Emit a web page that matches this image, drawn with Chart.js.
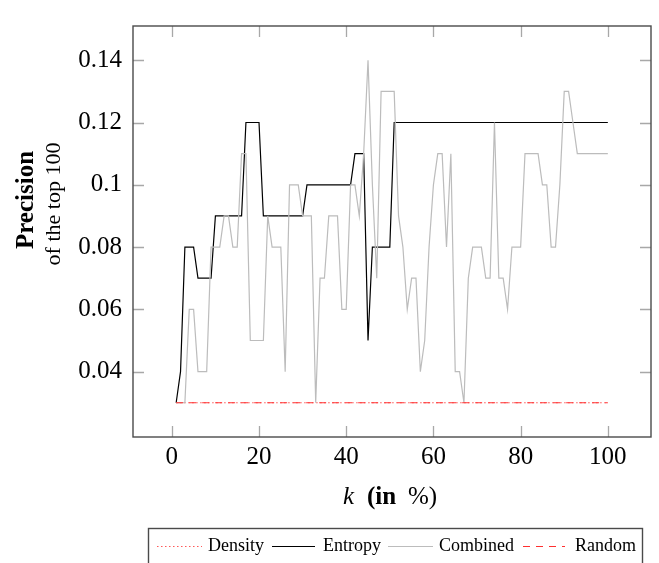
<!DOCTYPE html>
<html><head><meta charset="utf-8">
<script src="https://cdn.jsdelivr.net/npm/chart.js@4/dist/chart.umd.min.js"></script>
<style>html,body{margin:0;padding:0;background:#fff}</style>
</head><body>
<canvas id="c" width="659" height="563"></canvas>
<script>
const kValues = [1,2,3,4,5,6,7,8,9,10,11,12,13,14,15,16,17,18,19,20,21,22,23,24,25,26,27,28,29,30,31,32,33,34,35,36,37,38,39,40,41,42,43,44,45,46,47,48,49,50,51,52,53,54,55,56,57,58,59,60,61,62,63,64,65,66,67,68,69,70,71,72,73,74,75,76,77,78,79,80,81,82,83,84,85,86,87,88,89,90,91,92,93,94,95,96,97,98,99,100];
const density = [0.03,0.03,0.03,0.03,0.03,0.03,0.03,0.03,0.03,0.03,0.03,0.03,0.03,0.03,0.03,0.03,0.03,0.03,0.03,0.03,0.03,0.03,0.03,0.03,0.03,0.03,0.03,0.03,0.03,0.03,0.03,0.03,0.03,0.03,0.03,0.03,0.03,0.03,0.03,0.03,0.03,0.03,0.03,0.03,0.03,0.03,0.03,0.03,0.03,0.03,0.03,0.03,0.03,0.03,0.03,0.03,0.03,0.03,0.03,0.03,0.03,0.03,0.03,0.03,0.03,0.03,0.03,0.03,0.03,0.03,0.03,0.03,0.03,0.03,0.03,0.03,0.03,0.03,0.03,0.03,0.03,0.03,0.03,0.03,0.03,0.03,0.03,0.03,0.03,0.03,0.03,0.03,0.03,0.03,0.03,0.03,0.03,0.03,0.03,0.03];
const entropy = [0.03,0.04,0.08,0.08,0.08,0.07,0.07,0.07,0.07,0.09,
0.09,0.09,0.09,0.09,0.09,0.09,0.12,0.12,0.12,0.12,
0.09,0.09,0.09,0.09,0.09,0.09,0.09,0.09,0.09,0.09,
0.10,0.10,0.10,0.10,0.10,0.10,0.10,0.10,0.10,0.10,
0.10,0.11,0.11,0.11,0.05,0.08,0.08,0.08,0.08,0.08,
0.12,0.12,0.12,0.12,0.12,0.12,0.12,0.12,0.12,0.12,
0.12,0.12,0.12,0.12,0.12,0.12,0.12,0.12,0.12,0.12,
0.12,0.12,0.12,0.12,0.12,0.12,0.12,0.12,0.12,0.12,
0.12,0.12,0.12,0.12,0.12,0.12,0.12,0.12,0.12,0.12,
0.12,0.12,0.12,0.12,0.12,0.12,0.12,0.12,0.12,0.12];
const combined = [0.03,0.03,0.03,0.06,0.06,0.04,0.04,0.04,0.08,0.08,
0.08,0.09,0.09,0.08,0.08,0.11,0.11,0.05,0.05,0.05,
0.05,0.09,0.08,0.08,0.08,0.04,0.10,0.10,0.10,0.09,
0.09,0.09,0.03,0.07,0.07,0.09,0.09,0.09,0.06,0.06,
0.10,0.10,0.09,0.11,0.14,0.10,0.07,0.13,0.13,0.13,
0.13,0.09,0.08,0.06,0.07,0.07,0.04,0.05,0.08,0.10,
0.11,0.11,0.08,0.11,0.04,0.04,0.03,0.07,0.08,0.08,
0.08,0.07,0.07,0.12,0.07,0.07,0.06,0.08,0.08,0.08,
0.11,0.11,0.11,0.11,0.10,0.10,0.08,0.08,0.10,0.13,
0.13,0.12,0.11,0.11,0.11,0.11,0.11,0.11,0.11,0.11];
const random = [0.03,0.03,0.03,0.03,0.03,0.03,0.03,0.03,0.03,0.03,0.03,0.03,0.03,0.03,0.03,0.03,0.03,0.03,0.03,0.03,0.03,0.03,0.03,0.03,0.03,0.03,0.03,0.03,0.03,0.03,0.03,0.03,0.03,0.03,0.03,0.03,0.03,0.03,0.03,0.03,0.03,0.03,0.03,0.03,0.03,0.03,0.03,0.03,0.03,0.03,0.03,0.03,0.03,0.03,0.03,0.03,0.03,0.03,0.03,0.03,0.03,0.03,0.03,0.03,0.03,0.03,0.03,0.03,0.03,0.03,0.03,0.03,0.03,0.03,0.03,0.03,0.03,0.03,0.03,0.03,0.03,0.03,0.03,0.03,0.03,0.03,0.03,0.03,0.03,0.03,0.03,0.03,0.03,0.03,0.03,0.03,0.03,0.03,0.03,0.03];
const xTicks = [0,20,40,60,80,100];
const yTicks = [0.04,0.06,0.08,0.1,0.12,0.14];
const seriesNames = ['Density','Entropy','Combined','Random'];

const pts = arr => arr.map((v,i)=>({x:kValues[i], y:v}));
const SERIF = '"Liberation Serif","DejaVu Serif",serif';

const framePlugin = {
  id:'frame',
  afterDatasetsDraw(chart){
    const {ctx, chartArea:a, scales:{x,y}} = chart;
    ctx.save();
    ctx.strokeStyle = '#a8a8a8'; ctx.lineWidth = 1.3;
    const tl = 11;
    xTicks.forEach(v=>{
      const px = Math.round(x.getPixelForValue(v))+0.5;
      ctx.beginPath(); ctx.moveTo(px,a.bottom); ctx.lineTo(px,a.bottom-tl);
      ctx.moveTo(px,a.top); ctx.lineTo(px,a.top+tl); ctx.stroke();
    });
    yTicks.forEach(v=>{
      const py = Math.round(y.getPixelForValue(v))+0.5;
      ctx.beginPath(); ctx.moveTo(a.left,py); ctx.lineTo(a.left+tl,py);
      ctx.moveTo(a.right,py); ctx.lineTo(a.right-tl,py); ctx.stroke();
    });
    ctx.strokeStyle = '#4a4a4a'; ctx.lineWidth = 1.4;
    ctx.strokeRect(a.left, a.top, a.right-a.left, a.bottom-a.top);
    ctx.restore();
  },
  afterDraw(chart){
    const ctx = chart.ctx;
    ctx.save();
    ctx.fillStyle = '#000';
    // x title
    ctx.textBaseline = 'alphabetic'; ctx.textAlign = 'left';
    ctx.font = 'italic 25px '+SERIF; ctx.fillText('k', 343, 504);
    ctx.font = 'bold 25px '+SERIF; ctx.fillText('(in', 367, 504);
    ctx.font = '25px '+SERIF; ctx.fillText('%)', 408, 504);
    // y title
    ctx.textAlign = 'center';
    ctx.save(); ctx.translate(33, 200); ctx.rotate(-Math.PI/2);
    ctx.font = 'bold 25px '+SERIF; ctx.fillText('Precision', 0, 0); ctx.restore();
    ctx.save(); ctx.translate(60, 204); ctx.rotate(-Math.PI/2);
    ctx.font = '22px '+SERIF; ctx.fillText('of the top 100', 0, 0); ctx.restore();
    // legend
    ctx.strokeStyle = '#4a4a4a'; ctx.lineWidth = 1.4;
    ctx.strokeRect(148.5, 528.5, 494, 50);
    const ly = 546;
    const items = [
      {ds:0, x0:157, x1:202, tx:208},
      {ds:1, x0:272, x1:315, tx:323},
      {ds:2, x0:388, x1:433, tx:439},
      {ds:3, x0:523, x1:565, tx:575}
    ];
    items.forEach(it=>{
      const d = chart.data.datasets[it.ds];
      ctx.save();
      ctx.strokeStyle = d.borderColor; ctx.lineWidth = d.borderWidth;
      ctx.setLineDash(d.borderDash||[]);
      ctx.beginPath(); ctx.moveTo(it.x0, ly+0.5); ctx.lineTo(it.x1, ly+0.5); ctx.stroke();
      ctx.restore();
      ctx.font = '18px '+SERIF; ctx.textAlign='left'; ctx.textBaseline='middle'; ctx.fillStyle='#000';
      ctx.fillText(d.label, it.tx, ly);
    });
    ctx.restore();
  }
};

new Chart(document.getElementById('c'), {
  type:'line',
  data:{ datasets:[
    {label:seriesNames[0], data:pts(density), borderColor:'rgba(255,60,60,0.85)', borderDash:[1.5,2.5], borderWidth:1.2, order:4},
    {label:seriesNames[1], data:pts(entropy), borderColor:'#000000', borderWidth:1.2, order:3},
    {label:seriesNames[2], data:pts(combined), borderColor:'#bcbcbc', borderWidth:1.2, order:2},
    {label:seriesNames[3], data:pts(random), borderColor:'#ff3030', borderDash:[7,6], borderWidth:1.2, order:1}
  ]},
  options:{
    responsive:false, animation:false,
    layout:{padding:{left:0,right:8,top:6,bottom:0}},
    elements:{point:{radius:0}, line:{tension:0, fill:false}},
    plugins:{legend:{display:false}, tooltip:{enabled:false}, title:{display:false}},
    scales:{
      x:{type:'linear', min:-8.9, max:109.9,
        afterBuildTicks:s=>{s.ticks = xTicks.map(v=>({value:v}));},
        afterFit:s=>{s.height = 126;},
        ticks:{font:{family:SERIF,size:25}, color:'#000', padding:5, maxRotation:0, autoSkip:false,
          callback:v=>String(v)},
        grid:{display:false, drawTicks:false}, border:{display:false}},
      y:{type:'linear', min:0.019, max:0.151,
        afterBuildTicks:s=>{s.ticks = yTicks.map(v=>({value:v}));},
        afterFit:s=>{s.width = 133;},
        ticks:{font:{family:SERIF,size:25}, color:'#000', padding:11, autoSkip:false,
          callback:v=>String(Number(v.toFixed(2)))},
        grid:{display:false, drawTicks:false}, border:{display:false}}
    }
  },
  plugins:[framePlugin]
});
</script>
</body></html>
